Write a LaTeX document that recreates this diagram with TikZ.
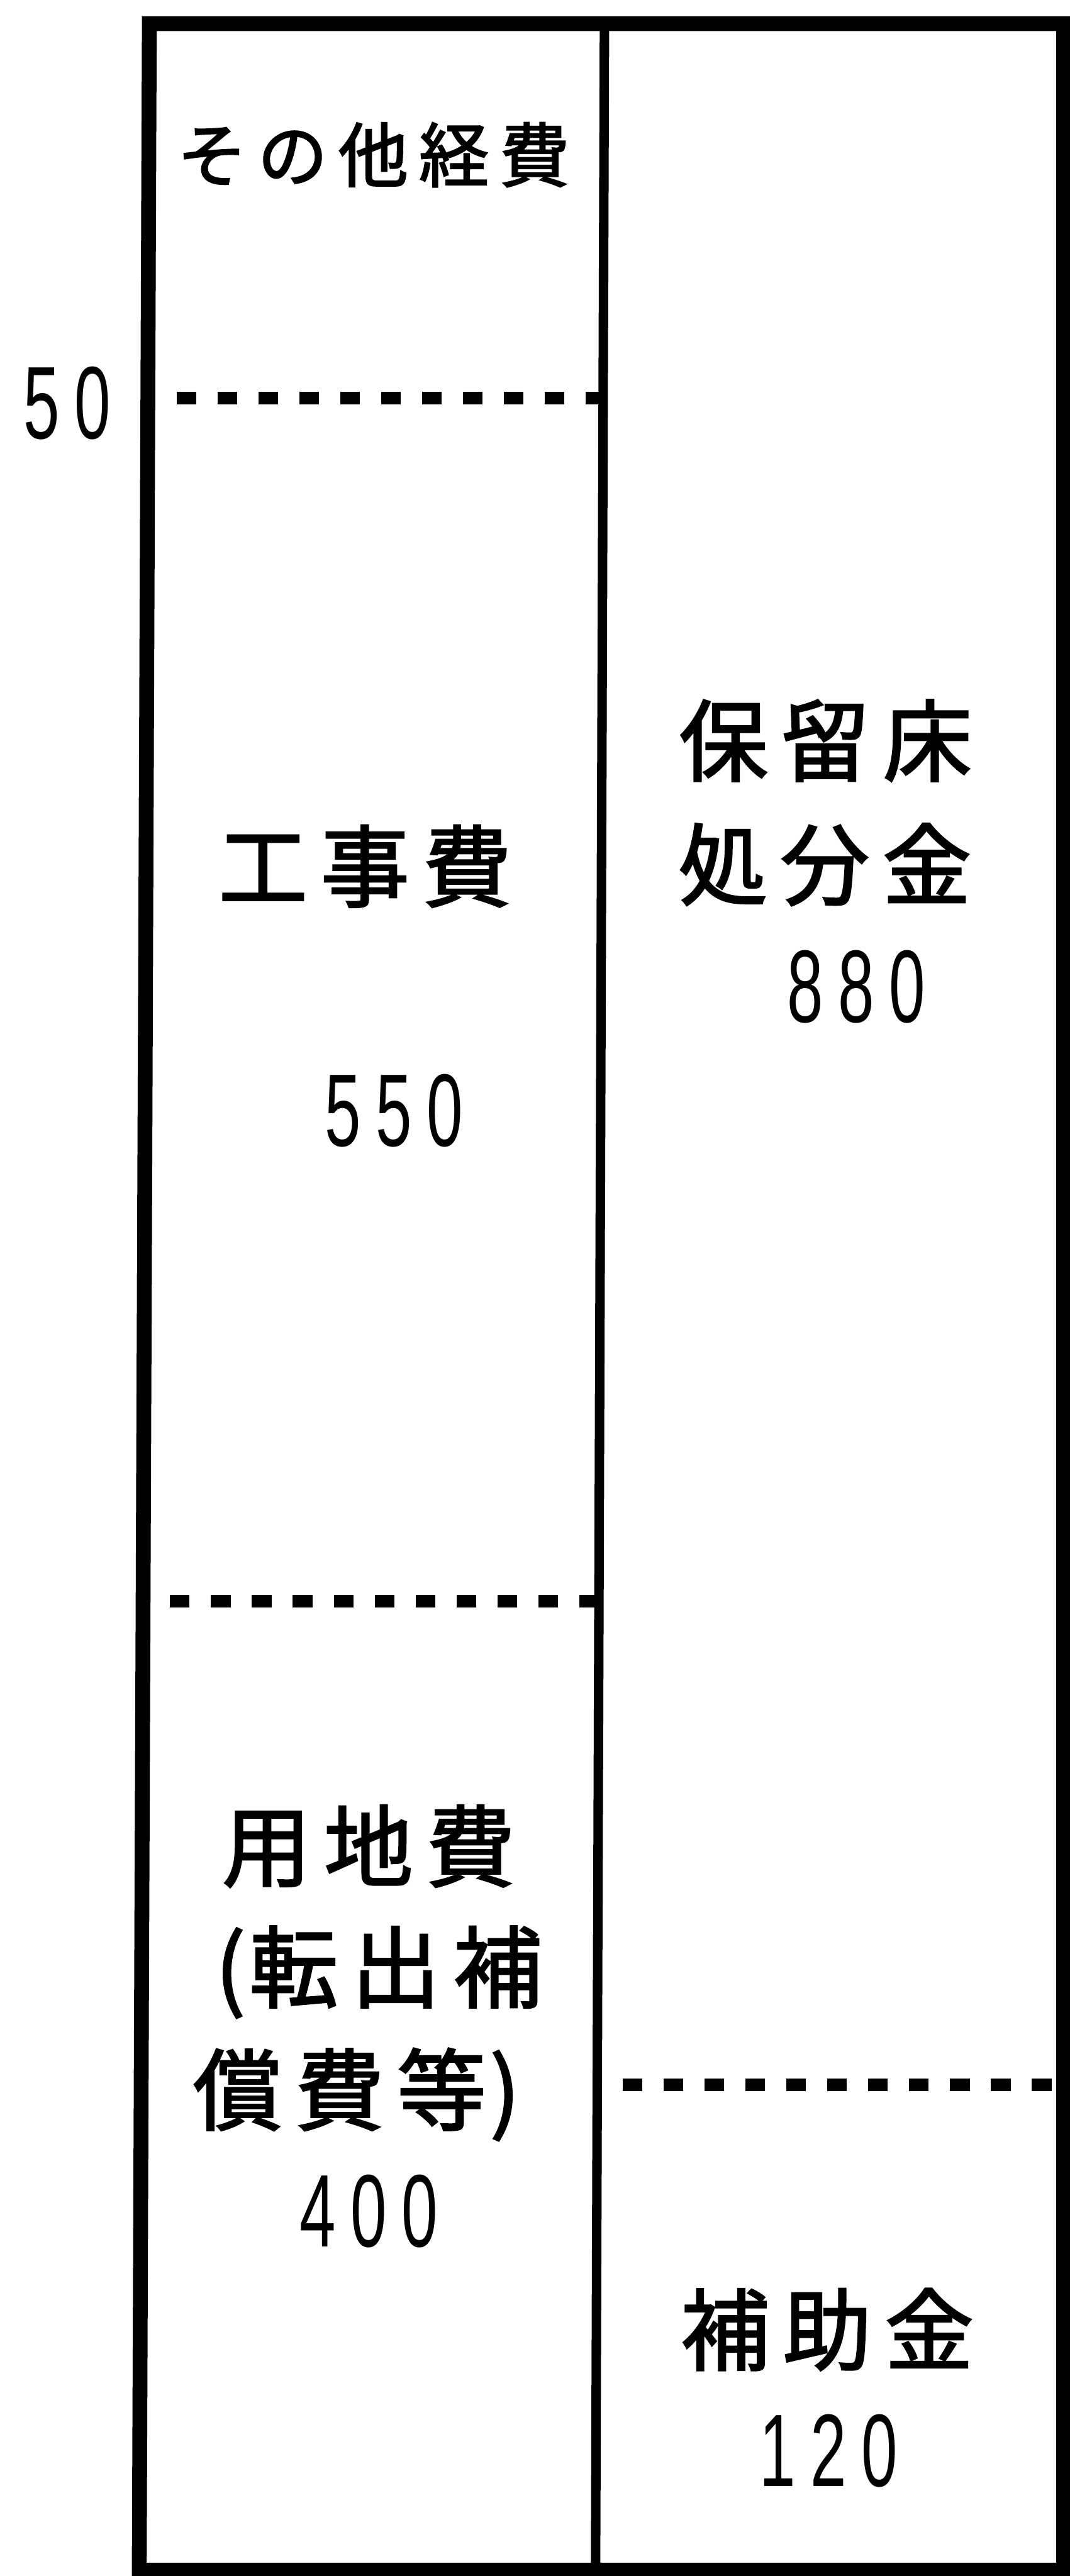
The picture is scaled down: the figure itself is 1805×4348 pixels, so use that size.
\documentclass[tikz,border=0pt]{standalone}
\usepackage{fontspec}
\usepackage{graphicx}
\newfontfamily\jpfont[FakeBold=2]{Noto Sans CJK JP}
\newfontfamily\numfont{Liberation Sans}
\newcommand\cj[1]{\makebox[1.72cm]{#1}}
\newcommand\cjs[1]{\makebox[1.36cm]{#1}}
\newcommand\pr[1]{\makebox[0.42cm]{#1}}
\newcommand\dg[1]{\makebox[0.86cm]{\scalebox{0.63}[1]{#1}}}
\begin{document}
\begin{tikzpicture}[x=0.01cm,y=-0.01cm,
  txt/.style={inner sep=0pt,outer sep=0pt,anchor=base},
  bigtxt/.style={txt,font=\jpfont\fontsize{42.7pt}{50pt}\selectfont},
  smalltxt/.style={txt,font=\jpfont\fontsize{33.6pt}{40pt}\selectfont},
  numtxt/.style={txt,font=\numfont\fontsize{49.5pt}{55pt}\selectfont},
  frame/.style={line width=2.5mm,line join=miter},
  divider/.style={line width=1.6mm},
  dotline/.style={line width=2.1mm,dash pattern=on 3.3mm off 3.6mm}]
\fill[white] (0,0) rectangle (1805,4348);
\useasboundingbox (0,0) rectangle (1805,4348);
% frame corners
\coordinate (TL) at (252,40);
\coordinate (TR) at (1795,40);
\coordinate (BR) at (1795,4338);
\coordinate (BL) at (235,4338);
\coordinate (MT) at (1020,40);
\coordinate (MB) at (1005,4338);
\draw[frame] (TL) -- (TR) -- (BR) -- (BL) -- cycle;
\draw[divider] (MT) -- (MB);
% dotted separators
\coordinate (d1s) at (298,672);
\coordinate (d1e) at (1014,672);
\coordinate (d2s) at (287,2703);
\coordinate (d2e) at (1009,2703);
\coordinate (d3s) at (1051,3519);
\coordinate (d3e) at (1795,3519);
\draw[dotline] (d1s) -- (d1e);
\draw[dotline] (d2s) -- (d2e);
\draw[dotline] (d3s) -- (d3e);
% labels
\node[numtxt] (n50) at (113,740) {\dg{5}\dg{0}};
\node[smalltxt] (sonota) at (630,306) {\cjs{そ}\cjs{の}\cjs{他}\cjs{経}\cjs{費}};
\node[bigtxt] (koji) at (616,1519) {\cj{工}\cj{事}\cj{費}};
\node[numtxt] (n550) at (665,1935) {\dg{5}\dg{5}\dg{0}};
\node[bigtxt] (horyu) at (1393,1307) {\cj{保}\cj{留}\cj{床}};
\node[bigtxt] (shobun) at (1392,1516) {\cj{処}\cj{分}\cj{金}};
\node[numtxt] (n880) at (1445,1726) {\dg{8}\dg{8}\dg{0}};
\node[bigtxt] (yochi) at (622,3173) {\cj{用}\cj{地}\cj{費}};
\node[bigtxt] (tenshutsu) at (647,3377) {\pr{(}\cj{転}\cj{出}\cj{補}};
\node[bigtxt] (shohi) at (594,3584) {\cj{償}\cj{費}\cj{等}\pr{)}};
\node[numtxt] (n400) at (622,3792) {\dg{4}\dg{0}\dg{0}};
\node[bigtxt] (hojo) at (1396,3989) {\cj{補}\cj{助}\cj{金}};
\node[numtxt] (n120) at (1398,4197) {\dg{1}\dg{2}\dg{0}};
\end{tikzpicture}
\end{document}
